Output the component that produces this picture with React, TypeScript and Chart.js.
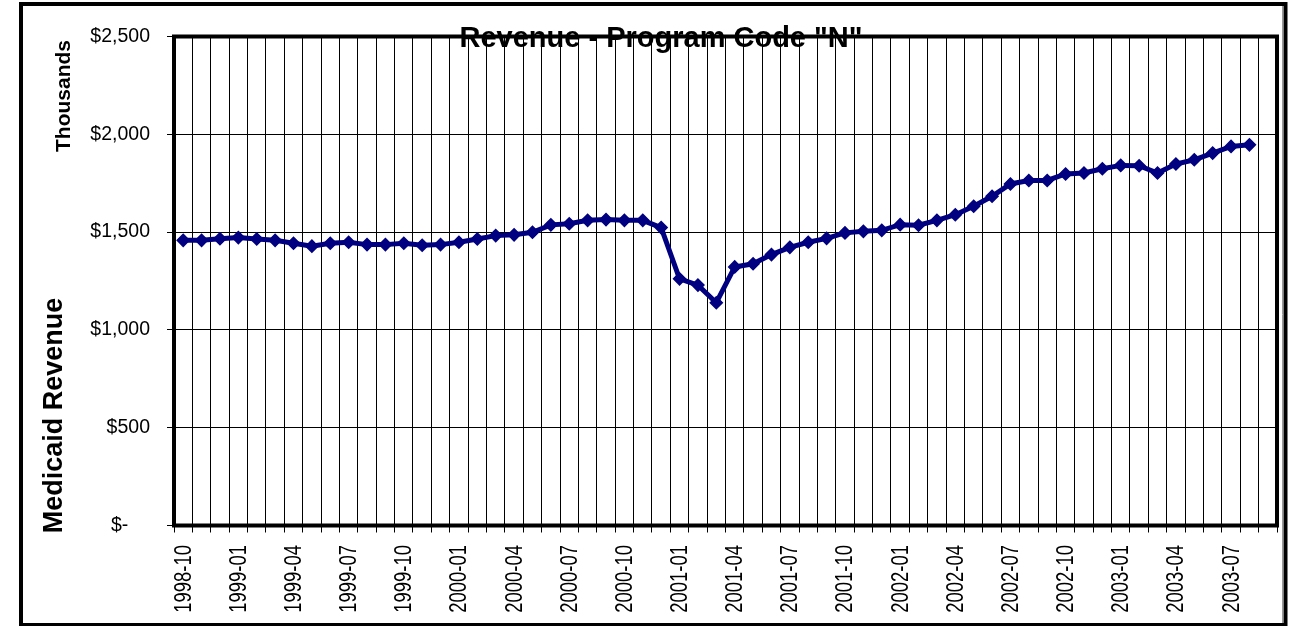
import React, { useEffect, useRef } from 'react';
import { Chart, registerables } from 'chart.js';

Chart.register(...registerables);

const categories = [
  '1998-10', '1998-11', '1998-12',
  '1999-01', '1999-02', '1999-03', '1999-04', '1999-05', '1999-06', '1999-07', '1999-08', '1999-09', '1999-10', '1999-11', '1999-12',
  '2000-01', '2000-02', '2000-03', '2000-04', '2000-05', '2000-06', '2000-07', '2000-08', '2000-09', '2000-10', '2000-11', '2000-12',
  '2001-01', '2001-02', '2001-03', '2001-04', '2001-05', '2001-06', '2001-07', '2001-08', '2001-09', '2001-10', '2001-11', '2001-12',
  '2002-01', '2002-02', '2002-03', '2002-04', '2002-05', '2002-06', '2002-07', '2002-08', '2002-09', '2002-10', '2002-11', '2002-12',
  '2003-01', '2003-02', '2003-03', '2003-04', '2003-05', '2003-06', '2003-07', '2003-08', '2003-09',
];

// Medicaid revenue, in thousands of dollars
const revenue = [
  1458, 1458, 1466, 1472, 1465, 1458, 1443, 1428, 1443, 1448, 1436, 1436, 1443, 1433,
  1436, 1448, 1465, 1482, 1486, 1499, 1537, 1543, 1560, 1564, 1560, 1560, 1523, 1261,
  1229, 1139, 1322, 1338, 1385, 1422, 1448, 1468, 1496,
  1504, 1509, 1538, 1535, 1560, 1589, 1632, 1683, 1746, 1764, 1764, 1797, 1802, 1824,
  1841, 1839, 1802, 1848, 1870, 1904, 1938, 1946,
];

const yMin = 0;
const yMax = 2500;
const yStep = 500;
const labelEvery = 3;

const chartTitle = 'Revenue - Program Code "N"';
const yAxisTitle = 'Medicaid Revenue';
const yUnitTitle = 'Thousands';

const formatDollar = (v: number) => (v === 0 ? '$-    ' : '$' + v.toLocaleString('en-US'));

export default function App() {
  const canvasRef = useRef<HTMLCanvasElement>(null);

  useEffect(() => {
    if (!canvasRef.current) return;

    const decorations = {
      id: 'decorations',
      afterDraw(chart: any) {
        const ctx = chart.ctx as CanvasRenderingContext2D;
        const a = chart.chartArea;
        const xs = chart.scales.x;
        ctx.save();
        ctx.strokeStyle = '#000';
        ctx.lineWidth = 4;
        ctx.strokeRect(a.left, a.top, a.right - a.left, a.bottom - a.top);
        // outer frame
        ctx.strokeRect(21, 4, 1264.5, 621);
        ctx.strokeStyle = '#9a9a9a';
        ctx.lineWidth = 1;
        ctx.beginPath();
        ctx.moveTo(1282.5, 6);
        ctx.lineTo(1282.5, 623);
        ctx.stroke();

        // condensed, rotated category labels
        ctx.fillStyle = '#000';
        ctx.font = '23.5px "Liberation Sans", Arial, sans-serif';
        ctx.textAlign = 'right';
        ctx.textBaseline = 'middle';
        categories.forEach((c, i) => {
          if (i % labelEvery !== 0) return;
          const px = xs.getPixelForValue(i);
          ctx.save();
          ctx.translate(px + 1, a.bottom + 19.5);
          ctx.rotate(-Math.PI / 2);
          ctx.scale(0.785, 1);
          ctx.fillText(c, 0, 0);
          ctx.restore();
        });

        // title
        ctx.font = 'bold 29px "Liberation Sans", Arial, sans-serif';
        ctx.textAlign = 'center';
        ctx.textBaseline = 'alphabetic';
        ctx.fillText(chartTitle, 661, 47);

        // rotated axis titles
        ctx.save();
        ctx.translate(70, 96);
        ctx.rotate(-Math.PI / 2);
        ctx.font = 'bold 21px "Liberation Sans", Arial, sans-serif';
        ctx.fillText(yUnitTitle, 0, 0);
        ctx.restore();

        ctx.save();
        ctx.translate(61.5, 415.5);
        ctx.rotate(-Math.PI / 2);
        ctx.font = 'bold 27px "Liberation Sans", Arial, sans-serif';
        ctx.fillText(yAxisTitle, 0, 0);
        ctx.restore();

        ctx.restore();
      },
    };

    const chart = new Chart(canvasRef.current, {
      type: 'line',
      data: {
        labels: categories,
        datasets: [
          {
            data: revenue,
            borderColor: '#000080',
            backgroundColor: '#000080',
            borderWidth: 5,
            pointStyle: 'rectRot',
            pointRadius: 6,
            pointBorderWidth: 1.5,
            pointBackgroundColor: '#000080',
            pointBorderColor: '#000080',
            tension: 0,
          },
        ],
      },
      options: {
        animation: false,
        responsive: false,
        devicePixelRatio: 1,
        layout: { padding: { top: 36.5, right: 13, left: 0, bottom: 0 } },
        plugins: {
          legend: { display: false },
          tooltip: { enabled: false },
          title: { display: false },
        },
        scales: {
          x: {
            type: 'category',
            offset: true,
            grid: { offset: true, color: '#000', lineWidth: 1, tickLength: 7, drawTicks: true },
            border: { display: false },
            ticks: { display: false, autoSkip: false },
            afterFit: (s: any) => {
              s.height = 100.5;
              s.paddingLeft = 0;
              s.paddingRight = 0;
            },
          },
          y: {
            min: yMin,
            max: yMax,
            grid: { color: '#000', lineWidth: 1, tickLength: 7 },
            border: { display: false },
            ticks: {
              stepSize: yStep,
              padding: 17,
              color: '#000',
              font: { family: '"Liberation Sans", Arial, sans-serif', size: 19.5 },
              callback: (v: any) => formatDollar(Number(v)),
            },
            afterFit: (s: any) => {
              s.width = 174;
              s.paddingTop = 0;
              s.paddingBottom = 0;
            },
          },
        },
      },
      plugins: [decorations],
    });

    return () => chart.destroy();
  }, []);

  return (
    <div style={{ position: 'absolute', left: 0, top: 0, width: 1290, height: 626, background: '#fff' }}>
      <canvas ref={canvasRef} width={1290} height={626} style={{ display: 'block' }} />
    </div>
  );
}
